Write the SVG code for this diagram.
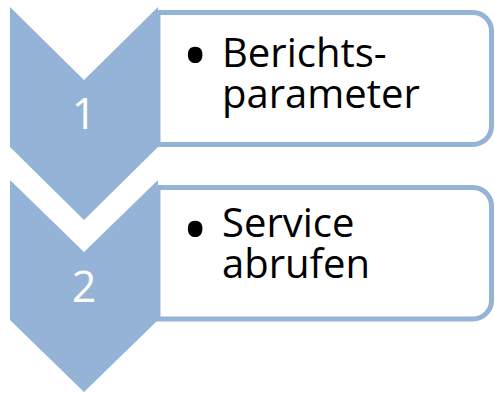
<svg xmlns="http://www.w3.org/2000/svg" width="495" height="393" viewBox="0 0 495 393">
  <style>
    .chev { fill: #95B3D7; }
    .box { fill: #FFFFFF; stroke: #95B3D7; stroke-width: 5; }
    .num { font-family: "Open Sans", "Liberation Sans", sans-serif; font-size: 43px; fill: #FFFFFF; text-anchor: middle; }
    .txt { font-family: "Open Sans", "Liberation Sans", sans-serif; font-size: 40px; fill: #000000; }
    .bul { font-size: 70px; }
  </style>
  <rect width="495" height="393" fill="#FFFFFF"/>
  <g id="step1">
    <path class="box" d="M158,12.5 H473 A18.5,18.5 0 0 1 491.5,31 V126 A18.5,18.5 0 0 1 473,144.5 H158 Z"/>
    <polygon class="chev" points="10,7 84,80 158,7 158,147 84,220 10,147"/>
    <text class="num" x="84" y="129">1</text>
    <text class="txt"><tspan class="bul" x="182" y="80">•</tspan><tspan x="222" y="67">Berichts-</tspan><tspan x="222" y="108">parameter</tspan></text>
  </g>
  <g id="step2">
    <path class="box" d="M158,187.5 H473 A18.5,18.5 0 0 1 491.5,206 V300.5 A18.5,18.5 0 0 1 473,319 H158 Z"/>
    <polygon class="chev" points="10,180 84,252 158,180 158,320 84,392 10,320"/>
    <text class="num" x="84" y="302">2</text>
    <text class="txt"><tspan class="bul" x="182" y="254">•</tspan><tspan x="222" y="237">Service</tspan><tspan x="222" y="278">abrufen</tspan></text>
  </g>
</svg>
